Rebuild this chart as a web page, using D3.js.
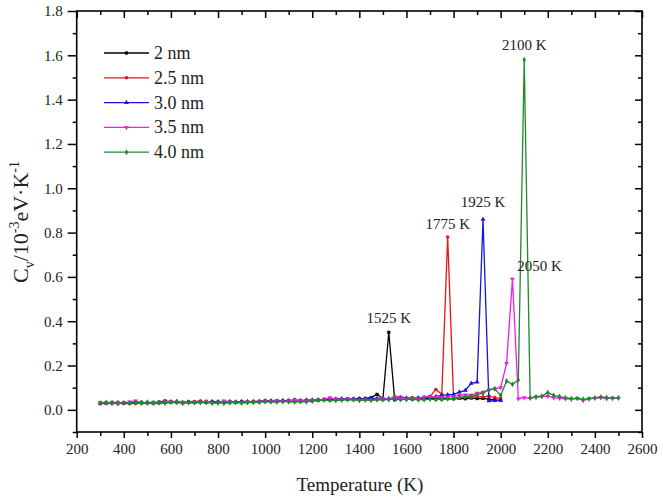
<!DOCTYPE html>
<html>
<head>
<meta charset="utf-8">
<script src="https://cdnjs.cloudflare.com/ajax/libs/d3/7.8.5/d3.min.js"></script>
<style>
  body { margin: 0; background: #fff; }
  svg { display: block; }
  svg text { font-family: "Liberation Serif", "Times New Roman", serif; }
</style>
</head>
<body>
<svg id="chart" width="663" height="497"></svg>
<script>
// temperature grid (K)
const temps = [300,325,350,375,400,425,450,475,500,525,550,575,600,625,650,675,700,725,750,775,
  800,825,850,875,900,925,950,975,1000,1025,1050,1075,1100,1125,1150,1175,1200,1225,1250,1275,
  1300,1325,1350,1375,1400,1425,1450,1475,1500,1525,1550,1575,1600,1625,1650,1675,1700,1725,1750,1775,
  1800,1825,1850,1875,1900,1925,1950,1975,2000,2025,2050,2075,2100,2125,2150,2175,2200,2225,2250,2275,
  2300,2325,2350,2375,2400,2425,2450,2475,2500];

// heat capacity, 10^-3 eV/K
const cv2nm = [.032,.030,.033,.031, .030,.033,.032,.034, .031,.033,.035,.040, .036,.034,.033,.036,
  .035,.037,.034,.036, .035,.037,.036,.035, .037,.036,.038,.036, .040,.039,.041,.040,
  .042,.041,.040,.042, .041,.044,.046,.045, .048,.047,.049,.048, .050,.052,.055,.070,
  .050,.350,.045,.048, .050,.049,.051,.050, .052,.050,.049,.051, .050,.052,.050,.053,
  .051,.052,.048,.045, .044];
const cv25nm = [.028,.031,.030,.029, .032,.030,.029,.031, .033,.030,.032,.034, .033,.035,.032,.034,
  .036,.040,.035,.033, .034,.036,.035,.033, .036,.035,.037,.038, .039,.038,.040,.039,
  .041,.045,.042,.043, .042,.045,.047,.046, .049,.047,.048,.050, .048,.050,.049,.052,
  .050,.048,.060,.058, .053,.055,.052,.056, .060,.092,.070,.780, .050,.055,.058,.056,
  .060,.058,.062,.055, .052];
const cv30nm = [.030,.032,.031,.033, .031,.030,.034,.032, .033,.032,.031,.034, .036,.038,.033,.035,
  .034,.036,.035,.038, .036,.034,.037,.035, .038,.037,.036,.039, .040,.041,.039,.042,
  .041,.043,.042,.044, .045,.044,.047,.046, .048,.050,.047,.049, .051,.049,.052,.050,
  .048,.051,.050,.053, .052,.050,.054,.056, .058,.060,.065,.068, .070,.080,.088,.120,
  .125,.860,.040,.042, .043];
const cv35nm = [.034,.031,.029,.032, .033,.036,.040,.032, .030,.034,.033,.036, .038,.032,.035,.033,
  .036,.034,.039,.032, .030,.040,.036,.034, .033,.036,.035,.037, .039,.038,.041,.037,
  .040,.044,.042,.040, .041,.043,.048,.055, .047,.045,.050,.046, .043,.045,.042,.047,
  .050,.046,.055,.054, .048,.052,.050,.057, .060,.056,.055,.058, .060,.065,.068,.066,
  .075,.080,.090,.095, .100,.210,.590,.050, .055,.052,.058,.060, .062,.055,.052,.050,
  .048,.052,.042,.050, .052,.055,.050,.054, .052];
const cv40nm = [.030,.033,.031,.028, .031,.030,.033,.031, .034,.030,.032,.031, .035,.037,.030,.033,
  .032,.034,.033,.031, .033,.030,.032,.034, .031,.033,.034,.035, .037,.036,.035,.038,
  .036,.035,.037,.036, .040,.045,.044,.043, .042,.044,.046,.045, .043,.045,.044,.046,
  .045,.047,.048,.046, .047,.049,.045,.046, .048,.046,.047,.050, .052,.055,.058,.062,
  .068,.075,.090,.095, .065,.130,.115,.135, 1.580,.055,.058,.062, .078,.065,.060,.055,
  .050,.052,.048,.050, .055,.058,.056,.052, .055];

const seriesNames = ["2 nm", "2.5 nm", "3.0 nm", "3.5 nm", "4.0 nm"];
const seriesValues = [cv2nm, cv25nm, cv30nm, cv35nm, cv40nm];
const seriesColors = ["#000000", "#e8141c", "#1515e0", "#f01cf0", "#1e8a2a"];
const seriesSymbols = [d3.symbolSquare, d3.symbolCircle, d3.symbolTriangle, d3.symbolTriangle, d3.symbolDiamond];

// peak labels
const peakLabels = [
  {t: 1525, v: 0.35, text: "1525 K"},
  {t: 1775, v: 0.78, text: "1775 K"},
  {t: 1925, v: 0.86, text: "1925 K"},
  {t: 2050, v: 0.59, text: "2050 K"},
  {t: 2100, v: 1.58, text: "2100 K"}
];

const xTicks = [200,400,600,800,1000,1200,1400,1600,1800,2000,2200,2400,2600];
const yTicks = [0, 0.2, 0.4, 0.6, 0.8, 1.0, 1.2, 1.4, 1.6, 1.8];

const svg = d3.select("#chart");
const mLeft = 76.7, mRight = 642, mTop = 11, mBottom = 432;
const serif = "'Liberation Serif', 'Times New Roman', serif";

const x = d3.scaleLinear().domain([200, 2600]).range([mLeft, mRight]);
const y = d3.scaleLinear().domain([-0.1, 1.8]).range([mBottom, mTop]);

const xMinor = d3.range(300, 2600, 200);
const yMinor = d3.range(-0.1, 1.8, 0.2).map(d => +d.toFixed(2));

function styleAxis(g) {
  g.attr("font-family", null);
  g.select(".domain").remove();
  g.selectAll("line").attr("stroke", "#000").attr("stroke-width", 1.5);
  g.selectAll("text")
    .style("font-family", serif)
    .style("font-size", "15px")
    .attr("fill", "#222");
}

// bottom axis
svg.append("g").attr("transform", `translate(0,${mBottom})`)
  .call(d3.axisBottom(x).tickValues(xTicks).tickSize(6).tickPadding(5).tickFormat(d3.format("d")))
  .call(styleAxis);
svg.append("g").attr("transform", `translate(0,${mBottom})`)
  .call(d3.axisBottom(x).tickValues(xMinor).tickSize(4).tickFormat(""))
  .call(styleAxis);
// top axis (inward)
svg.append("g").attr("transform", `translate(0,${mTop})`)
  .call(d3.axisBottom(x).tickValues(xTicks).tickSize(7).tickFormat(""))
  .call(styleAxis);
svg.append("g").attr("transform", `translate(0,${mTop})`)
  .call(d3.axisBottom(x).tickValues(xMinor).tickSize(4).tickFormat(""))
  .call(styleAxis);
// left axis
svg.append("g").attr("transform", `translate(${mLeft},0)`)
  .call(d3.axisLeft(y).tickValues(yTicks).tickSize(9).tickPadding(5).tickFormat(d3.format(".1f")))
  .call(styleAxis);
svg.append("g").attr("transform", `translate(${mLeft},0)`)
  .call(d3.axisLeft(y).tickValues(yMinor).tickSize(4).tickFormat(""))
  .call(styleAxis);
// right axis (inward)
svg.append("g").attr("transform", `translate(${mRight},0)`)
  .call(d3.axisLeft(y).tickValues(yTicks).tickSize(7).tickFormat(""))
  .call(styleAxis);
svg.append("g").attr("transform", `translate(${mRight},0)`)
  .call(d3.axisLeft(y).tickValues(yMinor).tickSize(4).tickFormat(""))
  .call(styleAxis);

// frame
svg.append("rect")
  .attr("x", mLeft).attr("y", mTop)
  .attr("width", mRight - mLeft).attr("height", mBottom - mTop)
  .attr("fill", "none").attr("stroke", "#000").attr("stroke-width", 1.6);

// series
const line = d3.line().x(d => x(d[0])).y(d => y(d[1]));
const plot = svg.append("g");
seriesValues.forEach((vals, i) => {
  const pts = vals.map((v, j) => [temps[j], v]);
  plot.append("path")
    .datum(pts)
    .attr("fill", "none")
    .attr("stroke", seriesColors[i])
    .attr("stroke-width", 1.3)
    .attr("d", line);
  plot.append("g").selectAll("path")
    .data(pts)
    .join("path")
    .attr("transform", d => `translate(${x(d[0])},${y(d[1])})` + (i === 3 ? " rotate(180)" : ""))
    .attr("d", d3.symbol().type(seriesSymbols[i]).size(10))
    .attr("fill", seriesColors[i]);
});

// peak annotations
const labelShift = {"1525 K": [0, -9], "1775 K": [0, -8], "1925 K": [0, -12], "2050 K": [27, -8], "2100 K": [0, -10]};
svg.append("g").selectAll("text")
  .data(peakLabels)
  .join("text")
  .attr("x", d => x(d.t) + labelShift[d.text][0])
  .attr("y", d => y(d.v) + labelShift[d.text][1])
  .attr("text-anchor", "middle")
  .style("font-size", "15px")
  .attr("fill", "#222")
  .text(d => d.text);

// legend
const legend = svg.append("g");
seriesNames.forEach((name, i) => {
  const ly = 53 + i * 24.8;
  legend.append("line")
    .attr("x1", 104).attr("x2", 149).attr("y1", ly).attr("y2", ly)
    .attr("stroke", seriesColors[i]).attr("stroke-width", 1.3);
  legend.append("path")
    .attr("transform", `translate(126.5,${ly})` + (i === 3 ? " rotate(180)" : ""))
    .attr("d", d3.symbol().type(seriesSymbols[i]).size(10))
    .attr("fill", seriesColors[i]);
  legend.append("text")
    .attr("x", 154).attr("y", ly + 6)
    .style("font-size", "18px").attr("fill", "#222")
    .text(name);
});

// axis titles
svg.append("text")
  .attr("x", 360).attr("y", 491)
  .attr("text-anchor", "middle")
  .style("font-size", "19px").attr("fill", "#222")
  .text("Temperature (K)");

const yt = svg.append("text")
  .attr("transform", "translate(28,222) rotate(-90)")
  .attr("text-anchor", "middle")
  .style("font-size", "22px").attr("fill", "#222");
yt.append("tspan").text("C");
yt.append("tspan").style("font-size", "14px").attr("dy", 6).text("v");
yt.append("tspan").attr("dy", -6).text("/10");
yt.append("tspan").style("font-size", "14px").attr("dy", -9).text("-3");
yt.append("tspan").attr("dy", 9).text("eV·K");
yt.append("tspan").style("font-size", "14px").attr("dy", -9).text("-1");
</script>
</body>
</html>
